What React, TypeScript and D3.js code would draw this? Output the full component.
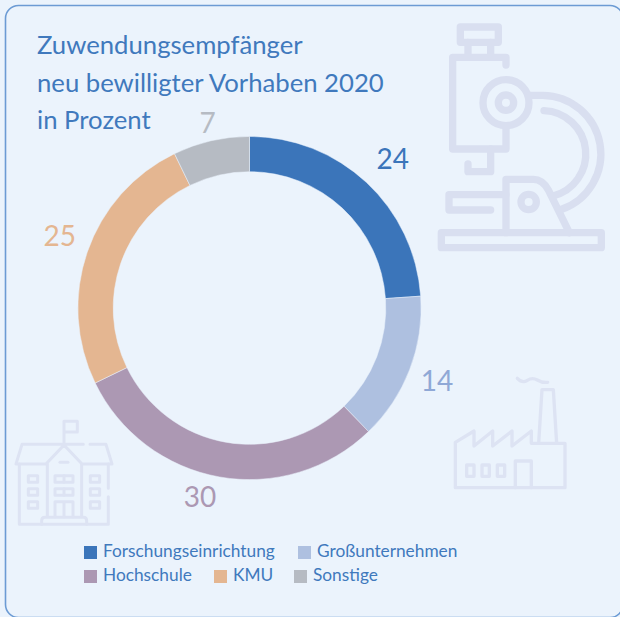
import React from "react";
import * as d3 from "d3";

const categories = ["Forschungseinrichtung", "Großunternehmen", "Hochschule", "KMU", "Sonstige"];
const values = [23.9, 13.9, 30, 25, 7.2];
const colors = ["#3b75ba", "#aec0e0", "#ac98b3", "#e4b691", "#b6bbc3"];
const labelColors = ["#3b75ba", "#8fa8d6", "#ac98b3", "#e4b691", "#b6bbc3"];
const titleLines = ["Zuwendungsempfänger", "neu bewilligter Vorhaben 2020", "in Prozent"];

const FONT = "Lato, 'Noto Sans', sans-serif";
const BG = "#ebf3fc";
const TEXT = "#4079bd";
const ICON = "#d9dff0";
const cx = 249.5, cy = 308, R = 171.6, r = 136.3;
const labelRadii = [207, 201, 195, 203, 190];
const labelShiftDeg = [0.8, 0.1, 4.6, 1.7, 0.2];
const legendPos = [
  { sx: 84, sy: 546, tx: 103 }, { sx: 298, sy: 546, tx: 317 },
  { sx: 84, sy: 570, tx: 103 }, { sx: 214, sy: 570, tx: 233 }, { sx: 294, sy: 570, tx: 313 },
];

const pieGen = d3.pie<number>().sort(null).startAngle(0).endAngle(2 * Math.PI);
const arcGen = d3.arc<d3.PieArcDatum<number>>().innerRadius(r).outerRadius(R);

function Microscope() {
  return (
    <g transform="translate(420,0) scale(0.3333)" fill="none" stroke={ICON} strokeWidth={22} strokeLinecap="round" strokeLinejoin="round">
      <rect x={121} y={81} width={114} height={46} />
      <path d="M144 127V172M212 127V172" />
      <path d="M258 195V172H98V447H258V378" />
      <circle cx={258} cy={308} r={69} />
      <circle cx={258} cy={308} r={23} />
      <path d="M144 492V515H212V447" />
      <path d="M330 286H368A176 176 0 0 1 425 628" />
      <path d="M372 332A130 130 0 0 1 399 588" />
      <path d="M258 584H87V630H212" />
      <path d="M258 698V538H340Q368 538 385 570L448 698" />
      <circle cx={326} cy={606} r={23} />
      <rect x={64} y={698} width={480} height={45} />
    </g>
  );
}

function School() {
  return (
    <g transform="translate(0,400) scale(0.3333)" fill="none" stroke="#dde3f3" strokeWidth={9} strokeLinecap="round" strokeLinejoin="round">
      <path d="M192 135V64H232V96H192" />
      <path d="M250 133H66L48 192H138L192 135L246 192H336L318 133H270" />
      <path d="M180 187H204" />
      <path d="M58 192V373H325V290M325 265V192" />
      <path d="M142 192V350M245 192V350" />
      <path d="M125 373V362Q125 352 135 352H250Q260 352 260 362V373" />
      <rect x={85} y={227} width={28} height={20} />
      <rect x={85} y={266} width={28} height={20} />
      <rect x={85} y={305} width={28} height={20} />
      <rect x={271} y={227} width={28} height={20} />
      <rect x={271} y={266} width={28} height={20} />
      <rect x={271} y={305} width={28} height={20} />
      <rect x={165} y={227} width={54} height={20} />
      <rect x={165} y={266} width={54} height={20} />
      <path d="M192 227V247M192 266V286" />
      <path d="M165 350V305H219V350M192 305V350" />
    </g>
  );
}

function Factory() {
  return (
    <g transform="translate(440,365) scale(0.3333)" fill="none" stroke="#dde3f3" strokeWidth={10} strokeLinecap="round" strokeLinejoin="round">
      <path d="M232 40Q247 56 262 46T292 45T323 52" />
      <path d="M296 235L306 74H340L350 235" />
      <path d="M46 368V232L102 198V243L158 198V243L216 198V243L274 198V235H375V368Z" />
      <path d="M226 368V288H274V368" />
      <rect x={80} y={300} width={22} height={34} />
      <rect x={126} y={300} width={22} height={34} />
      <rect x={172} y={300} width={22} height={34} />
    </g>
  );
}

export default function App() {
  const arcs = pieGen(values);
  return (
    <svg width={620} height={617} style={{ position: "absolute", left: 0, top: 0, background: BG, fontFamily: FONT }}>
      <rect x={5.5} y={5.5} width={617.5} height={612} rx={13} fill={BG} stroke="#6c9bd4" strokeWidth={1.6} />
      <Microscope />
      <School />
      <Factory />
      {titleLines.map((t, i) => (
        <text key={t} x={37} y={54 + i * 37.7} fontSize={25.7} fill={TEXT}>{t}</text>
      ))}
      <g transform={`translate(${cx},${cy})`}>
        {arcs.map((a, i) => (
          <path key={i} d={arcGen(a) || ""} fill={colors[i]} stroke="#ebf3fc" strokeWidth={0.5} />
        ))}
        {arcs.map((a, i) => {
          const m = (a.startAngle + a.endAngle) / 2 + (labelShiftDeg[i] * Math.PI) / 180;
          return (
            <text key={i} x={Math.sin(m) * labelRadii[i]} y={-Math.cos(m) * labelRadii[i]} dy="0.36em"
              textAnchor="middle" fontSize={28} fill={labelColors[i]}>{Math.round(values[i])}</text>
          );
        })}
      </g>
      {categories.map((c, i) => (
        <g key={c}>
          <rect x={legendPos[i].sx} y={legendPos[i].sy} width={13} height={13} fill={colors[i]} />
          <text x={legendPos[i].tx} y={legendPos[i].sy + 11} fontSize={17.3} fill={TEXT}>{c}</text>
        </g>
      ))}
    </svg>
  );
}
